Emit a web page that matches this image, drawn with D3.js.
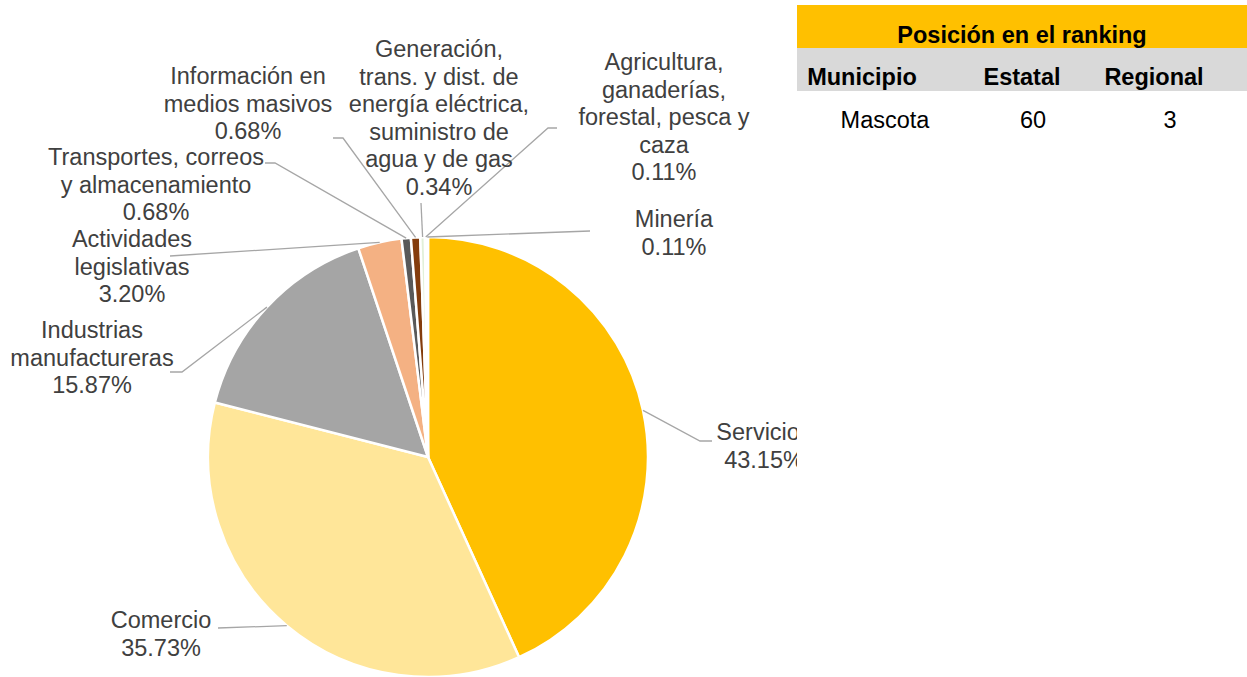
<!DOCTYPE html>
<html>
<head>
<meta charset="utf-8">
<script src="https://cdn.jsdelivr.net/npm/d3@7"></script>
<style>
  body { margin: 0; background: #fff; }
  text { font-family: "Liberation Sans", Arial, sans-serif; }
</style>
</head>
<body>
<div id="graph"></div>
<script>
const width = 1247,
  height = 677,
  center = [428, 457],
  radius = 220;

// sectores (sentido horario desde arriba)
const sectores = [
  ["Servicios"],
  ["Comercio"],
  ["Industrias", "manufactureras"],
  ["Actividades", "legislativas"],
  ["Transportes, correos", "y almacenamiento"],
  ["Información en", "medios masivos"],
  ["Generación,", "trans. y dist. de", "energía eléctrica,", "suministro de", "agua y de gas"],
  ["Agricultura,", "ganaderías,", "forestal, pesca y", "caza"],
  ["Minería"]
];
const porcentajes = [43.15, 35.73, 15.87, 3.20, 0.68, 0.68, 0.34, 0.11, 0.11];
const colores = ["#FFC000", "#FFE699", "#A5A5A5", "#F4B183", "#595959", "#843C0C", "#E2F0D9", "#DEEBF7", "#FBE5D6"];

// tabla de ranking
const rankingTitulo = "Posición en el ranking";
const rankingColumnas = ["Municipio", "Estatal", "Regional"];
const rankingFila = ["Mascota", "60", "3"];

// colocación manual de etiquetas: texto (centro, primera línea base), codo y final de la guía
const labelLayout = [
  { tx: 764, ty: 440, pts: [[700, 441], [712, 441]] },
  { tx: 161, ty: 628, pts: [[218, 628]] },
  { tx: 92, ty: 338, pts: [[182, 372], [170, 372]] },
  { tx: 132, ty: 247, pts: [[170, 256]] },
  { tx: 156, ty: 165, pts: [[275, 163], [265, 163]] },
  { tx: 248, ty: 84, pts: [[343, 138], [333, 138]] },
  { tx: 439, ty: 57, pts: [[421, 203]] },
  { tx: 664, ty: 70, pts: [[548, 128], [557, 128]] },
  { tx: 674, ty: 227, pts: [[590, 231]] }
];

const data = sectores.map((s, i) => ({ lines: s, value: porcentajes[i], color: colores[i], layout: labelLayout[i] }));

const svg = d3.select("#graph").append("svg")
  .attr("width", width)
  .attr("height", height);

svg.append("defs").append("clipPath").attr("id", "clipChart")
  .append("rect").attr("x", 0).attr("y", 0).attr("width", 797).attr("height", height);

const chartG = svg.append("g").attr("clip-path", "url(#clipChart)");

const pie = d3.pie().sort(null).value(d => d.value);
const arc = d3.arc().innerRadius(0).outerRadius(radius);
const arcs = pie(data);

const g = chartG.append("g").attr("transform", `translate(${center[0]},${center[1]})`);

g.selectAll("path")
  .data(arcs)
  .join("path")
  .attr("d", arc)
  .attr("fill", d => d.data.color)
  .attr("stroke", "#fff")
  .attr("stroke-width", 2.5)
  .attr("stroke-linejoin", "round");

// guías
const line = d3.line();
chartG.append("g")
  .selectAll("path")
  .data(arcs)
  .join("path")
  .attr("d", d => {
    const a = (d.startAngle + d.endAngle) / 2;
    const p0 = [center[0] + radius * Math.sin(a), center[1] - radius * Math.cos(a)];
    return line([p0, ...d.data.layout.pts]);
  })
  .attr("fill", "none")
  .attr("stroke", "#A6A6A6")
  .attr("stroke-width", 1.3);

// etiquetas
const lbl = chartG.append("g")
  .selectAll("text")
  .data(arcs)
  .join("text")
  .attr("x", d => d.data.layout.tx)
  .attr("y", d => d.data.layout.ty)
  .attr("text-anchor", "middle")
  .attr("fill", "#404040")
  .style("font-size", "23.5px");

lbl.each(function (d) {
  const t = d3.select(this);
  const rows = d.data.lines.concat([d.data.value.toFixed(2) + "%"]);
  rows.forEach((r, i) => {
    t.append("tspan")
      .attr("x", d.data.layout.tx)
      .attr("dy", i === 0 ? 0 : 27.5)
      .text(r);
  });
});

// tabla
const tabla = svg.append("g");
const colX = [862, 1022, 1154];
const filaX = [885, 1033, 1170];

tabla.append("rect")
  .attr("x", 797).attr("y", 5).attr("width", width - 797).attr("height", 43)
  .attr("fill", "#FFC000");
tabla.append("rect")
  .attr("x", 797).attr("y", 48).attr("width", width - 797).attr("height", 43)
  .attr("fill", "#D9D9D9");

tabla.append("text")
  .attr("x", 1022).attr("y", 43)
  .attr("text-anchor", "middle")
  .attr("font-weight", "bold")
  .style("font-size", "23.5px")
  .attr("fill", "#000")
  .text(rankingTitulo);

tabla.selectAll("text.col")
  .data(rankingColumnas)
  .join("text")
  .attr("class", "col")
  .attr("x", (d, i) => colX[i])
  .attr("y", 85)
  .attr("text-anchor", "middle")
  .attr("font-weight", "bold")
  .style("font-size", "23.5px")
  .attr("fill", "#000")
  .text(d => d);

tabla.selectAll("text.val")
  .data(rankingFila)
  .join("text")
  .attr("class", "val")
  .attr("x", (d, i) => filaX[i])
  .attr("y", 128)
  .attr("text-anchor", "middle")
  .style("font-size", "23.5px")
  .attr("fill", "#000")
  .text(d => d);
</script>
</body>
</html>
